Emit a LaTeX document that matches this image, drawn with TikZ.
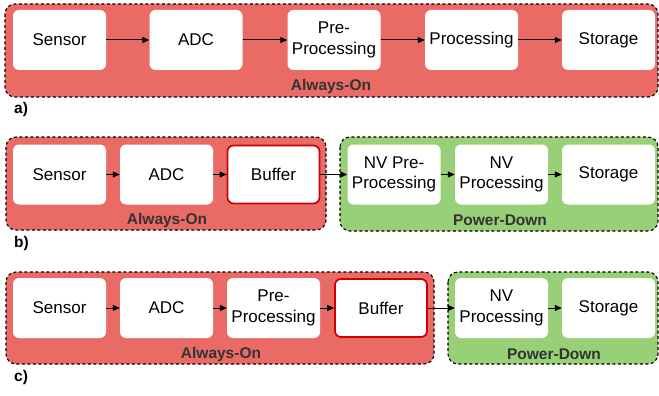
\documentclass[tikz,border=0pt]{standalone}
\usepackage{fontspec}
\setmainfont{Liberation Sans}
\usetikzlibrary{arrows.meta}
\definecolor{grpred}{HTML}{EA6B66}
\definecolor{grpgreen}{HTML}{97D077}
\definecolor{bufred}{HTML}{CC0000}
\definecolor{lbl}{HTML}{333333}
\begin{document}
\begin{tikzpicture}[x=1pt,y=-1pt,
  box/.style={draw=none,fill=white,rounded corners=6pt,minimum width=93pt,minimum height=60pt,inner sep=0pt,align=center,font=\fontsize{17}{20.5}\selectfont},
  bufbox/.style={box,draw=bufred,line width=1.7pt,minimum width=92pt,minimum height=58pt},
  grp/.style={draw=black,dash pattern=on 3pt off 2.5pt,line width=1.1pt,rounded corners=10pt},
  redgrp/.style={grp,fill=grpred},
  greengrp/.style={grp,fill=grpgreen},
  grplabel/.style={text=lbl,font=\bfseries\fontsize{15.5}{18}\selectfont,inner sep=0pt},
  tag/.style={text=black,font=\bfseries\fontsize{15.5}{18}\selectfont,inner sep=0pt},
  arr/.style={-{Triangle[length=7pt,width=6pt]},line width=1pt}]
\useasboundingbox (0,0) rectangle (659,396);
% containers
\path[redgrp] (5,4) rectangle (658,97);
\path[redgrp] (6,137) rectangle (326,230);
\path[greengrp] (340,137) rectangle (658,231);
\path[redgrp] (6,272) rectangle (434,364);
\path[greengrp] (448,272) rectangle (658,364);
% group labels
\node[grplabel] (la) at (331,86) {Always-On};
\node[grplabel] (lb1) at (167,220) {Always-On};
\node[grplabel] (lb2) at (500,220) {Power-Down};
\node[grplabel] (lc1) at (221,354) {Always-On};
\node[grplabel] (lc2) at (554,354) {Power-Down};
\node[tag,anchor=west] (ta) at (14,109) {a)};
\node[tag,anchor=west] (tb) at (14,243) {b)};
\node[tag,anchor=west] (tc) at (14,377) {c)};
% row a
\node[box] (a1) at (59.5,40) {Sensor};
\node[box] (a2) at (196,40) {ADC};
\node[box] (a3) at (334,40) {Pre-\\Processing};
\node[box] (a4) at (471.5,40) {Processing};
\node[box] (a5) at (608.5,40) {Storage};
\draw[arr] (a1) -- (a2);
\draw[arr] (a2) -- (a3);
\draw[arr] (a3) -- (a4);
\draw[arr] (a4) -- (a5);
% row b
\node[box] (b1) at (59.5,174.5) {Sensor};
\node[box] (b2) at (166.5,174.5) {ADC};
\node[bufbox] (b3) at (273.5,174.5) {Buffer};
\node[box] (b4) at (394,174.5) {NV Pre-\\Processing};
\node[box] (b5) at (501.5,174.5) {NV\\Processing};
\node[box] (b6) at (608.5,174.5) {Storage};
\draw[arr] (b1) -- (b2);
\draw[arr] (b2) -- (b3);
\draw[arr] (b3) -- (b4);
\draw[arr] (b4) -- (b5);
\draw[arr] (b5) -- (b6);
% row c
\node[box] (c1) at (59.5,308) {Sensor};
\node[box] (c2) at (166.5,308) {ADC};
\node[box] (c3) at (273.5,308) {Pre-\\Processing};
\node[bufbox] (c4) at (381,308) {Buffer};
\node[box] (c5) at (501.5,308) {NV\\Processing};
\node[box] (c6) at (608.5,308) {Storage};
\draw[arr] (c1) -- (c2);
\draw[arr] (c2) -- (c3);
\draw[arr] (c3) -- (c4);
\draw[arr] (c4) -- (c5);
\draw[arr] (c5) -- (c6);
\end{tikzpicture}
\end{document}
